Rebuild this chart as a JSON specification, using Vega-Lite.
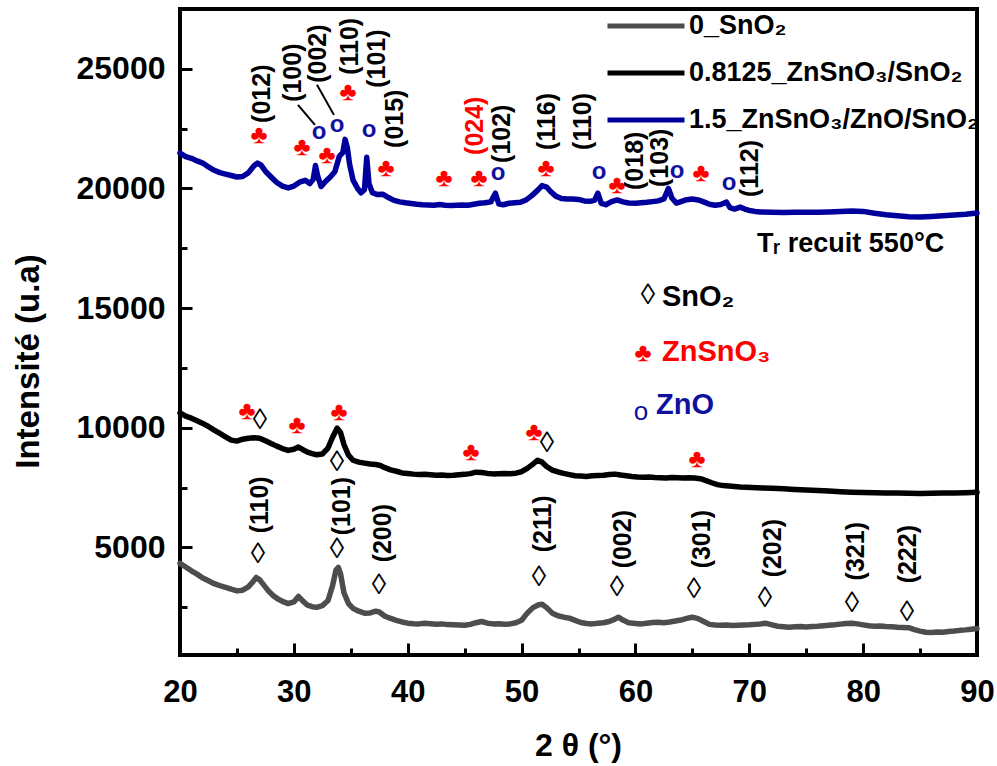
{
  "$schema": "https://vega.github.io/schema/vega-lite/v6.json",
  "width": 797,
  "height": 646,
  "autosize": "none",
  "padding": {"left": 180, "top": 9, "right": 20, "bottom": 111},
  "background": "white",
  "config": {
    "view": {"stroke": "black", "strokeWidth": 4},
    "font": "Liberation Sans",
    "legend": {
      "orient": "none",
      "legendX": 425,
      "legendY": 2,
      "padding": 0,
      "symbolType": "stroke",
      "symbolSize": 5929,
      "symbolStrokeWidth": 5,
      "labelFont": "Liberation Sans",
      "labelFontWeight": "bold",
      "labelFontSize": 27,
      "labelColor": "black",
      "labelOffset": 2,
      "labelLimit": 500,
      "clipHeight": 30,
      "rowPadding": 17
    }
  },
  "datasets": {
    "scans": [
      {"s": "0_SnO₂", "t": 20.0, "i": 4330}, {"s": "0_SnO₂", "t": 20.5, "i": 4180}, {"s": "0_SnO₂", "t": 21.0, "i": 4020}, {"s": "0_SnO₂", "t": 21.5, "i": 3880},
      {"s": "0_SnO₂", "t": 22.0, "i": 3720}, {"s": "0_SnO₂", "t": 22.5, "i": 3600}, {"s": "0_SnO₂", "t": 23.0, "i": 3480}, {"s": "0_SnO₂", "t": 23.5, "i": 3400},
      {"s": "0_SnO₂", "t": 24.0, "i": 3330}, {"s": "0_SnO₂", "t": 24.5, "i": 3250}, {"s": "0_SnO₂", "t": 25.0, "i": 3180}, {"s": "0_SnO₂", "t": 25.5, "i": 3210},
      {"s": "0_SnO₂", "t": 26.0, "i": 3350}, {"s": "0_SnO₂", "t": 26.4, "i": 3560}, {"s": "0_SnO₂", "t": 26.7, "i": 3740}, {"s": "0_SnO₂", "t": 27.0, "i": 3640},
      {"s": "0_SnO₂", "t": 27.4, "i": 3400}, {"s": "0_SnO₂", "t": 27.8, "i": 3160}, {"s": "0_SnO₂", "t": 28.2, "i": 2980}, {"s": "0_SnO₂", "t": 28.6, "i": 2840},
      {"s": "0_SnO₂", "t": 29.0, "i": 2740}, {"s": "0_SnO₂", "t": 29.5, "i": 2650}, {"s": "0_SnO₂", "t": 30.0, "i": 2720}, {"s": "0_SnO₂", "t": 30.4, "i": 2950},
      {"s": "0_SnO₂", "t": 30.8, "i": 2750}, {"s": "0_SnO₂", "t": 31.2, "i": 2580}, {"s": "0_SnO₂", "t": 31.6, "i": 2520}, {"s": "0_SnO₂", "t": 32.0, "i": 2490},
      {"s": "0_SnO₂", "t": 32.5, "i": 2560}, {"s": "0_SnO₂", "t": 33.0, "i": 2780}, {"s": "0_SnO₂", "t": 33.4, "i": 3400}, {"s": "0_SnO₂", "t": 33.7, "i": 4050},
      {"s": "0_SnO₂", "t": 33.9, "i": 4160}, {"s": "0_SnO₂", "t": 34.1, "i": 3900}, {"s": "0_SnO₂", "t": 34.4, "i": 3100}, {"s": "0_SnO₂", "t": 34.8, "i": 2650},
      {"s": "0_SnO₂", "t": 35.2, "i": 2450}, {"s": "0_SnO₂", "t": 35.7, "i": 2330}, {"s": "0_SnO₂", "t": 36.2, "i": 2250}, {"s": "0_SnO₂", "t": 36.7, "i": 2260},
      {"s": "0_SnO₂", "t": 37.2, "i": 2330}, {"s": "0_SnO₂", "t": 37.5, "i": 2300}, {"s": "0_SnO₂", "t": 38.0, "i": 2120}, {"s": "0_SnO₂", "t": 38.5, "i": 2030},
      {"s": "0_SnO₂", "t": 39.0, "i": 1950}, {"s": "0_SnO₂", "t": 39.5, "i": 1880}, {"s": "0_SnO₂", "t": 40.0, "i": 1830}, {"s": "0_SnO₂", "t": 40.5, "i": 1810},
      {"s": "0_SnO₂", "t": 41.0, "i": 1800}, {"s": "0_SnO₂", "t": 41.5, "i": 1830}, {"s": "0_SnO₂", "t": 42.0, "i": 1810}, {"s": "0_SnO₂", "t": 42.5, "i": 1790},
      {"s": "0_SnO₂", "t": 43.0, "i": 1800}, {"s": "0_SnO₂", "t": 43.5, "i": 1770}, {"s": "0_SnO₂", "t": 44.0, "i": 1760}, {"s": "0_SnO₂", "t": 44.5, "i": 1750},
      {"s": "0_SnO₂", "t": 45.0, "i": 1740}, {"s": "0_SnO₂", "t": 45.5, "i": 1780}, {"s": "0_SnO₂", "t": 46.0, "i": 1850}, {"s": "0_SnO₂", "t": 46.5, "i": 1900},
      {"s": "0_SnO₂", "t": 47.0, "i": 1830}, {"s": "0_SnO₂", "t": 47.5, "i": 1800}, {"s": "0_SnO₂", "t": 48.0, "i": 1810}, {"s": "0_SnO₂", "t": 48.5, "i": 1790},
      {"s": "0_SnO₂", "t": 49.0, "i": 1800}, {"s": "0_SnO₂", "t": 49.5, "i": 1850}, {"s": "0_SnO₂", "t": 50.0, "i": 1950}, {"s": "0_SnO₂", "t": 50.5, "i": 2250},
      {"s": "0_SnO₂", "t": 51.0, "i": 2480}, {"s": "0_SnO₂", "t": 51.5, "i": 2600}, {"s": "0_SnO₂", "t": 51.8, "i": 2620}, {"s": "0_SnO₂", "t": 52.2, "i": 2480},
      {"s": "0_SnO₂", "t": 52.7, "i": 2250}, {"s": "0_SnO₂", "t": 53.2, "i": 2140}, {"s": "0_SnO₂", "t": 53.7, "i": 2080}, {"s": "0_SnO₂", "t": 54.2, "i": 2040},
      {"s": "0_SnO₂", "t": 54.7, "i": 1950}, {"s": "0_SnO₂", "t": 55.2, "i": 1860}, {"s": "0_SnO₂", "t": 55.7, "i": 1820}, {"s": "0_SnO₂", "t": 56.2, "i": 1800},
      {"s": "0_SnO₂", "t": 56.7, "i": 1830}, {"s": "0_SnO₂", "t": 57.2, "i": 1850}, {"s": "0_SnO₂", "t": 57.7, "i": 1900}, {"s": "0_SnO₂", "t": 58.2, "i": 2000},
      {"s": "0_SnO₂", "t": 58.5, "i": 2080}, {"s": "0_SnO₂", "t": 58.9, "i": 1960}, {"s": "0_SnO₂", "t": 59.4, "i": 1850}, {"s": "0_SnO₂", "t": 60.0, "i": 1820},
      {"s": "0_SnO₂", "t": 60.5, "i": 1800}, {"s": "0_SnO₂", "t": 61.0, "i": 1830}, {"s": "0_SnO₂", "t": 61.5, "i": 1860}, {"s": "0_SnO₂", "t": 62.0, "i": 1870},
      {"s": "0_SnO₂", "t": 62.5, "i": 1850}, {"s": "0_SnO₂", "t": 63.0, "i": 1880}, {"s": "0_SnO₂", "t": 63.5, "i": 1920}, {"s": "0_SnO₂", "t": 64.0, "i": 1960},
      {"s": "0_SnO₂", "t": 64.5, "i": 2030}, {"s": "0_SnO₂", "t": 65.0, "i": 2080}, {"s": "0_SnO₂", "t": 65.5, "i": 2020}, {"s": "0_SnO₂", "t": 66.0, "i": 1900},
      {"s": "0_SnO₂", "t": 66.5, "i": 1780}, {"s": "0_SnO₂", "t": 67.0, "i": 1750}, {"s": "0_SnO₂", "t": 67.5, "i": 1740}, {"s": "0_SnO₂", "t": 68.0, "i": 1750},
      {"s": "0_SnO₂", "t": 68.5, "i": 1730}, {"s": "0_SnO₂", "t": 69.0, "i": 1740}, {"s": "0_SnO₂", "t": 69.5, "i": 1750}, {"s": "0_SnO₂", "t": 70.0, "i": 1760},
      {"s": "0_SnO₂", "t": 70.5, "i": 1780}, {"s": "0_SnO₂", "t": 71.0, "i": 1800}, {"s": "0_SnO₂", "t": 71.4, "i": 1830}, {"s": "0_SnO₂", "t": 72.0, "i": 1760},
      {"s": "0_SnO₂", "t": 72.5, "i": 1700}, {"s": "0_SnO₂", "t": 73.0, "i": 1680}, {"s": "0_SnO₂", "t": 73.5, "i": 1660}, {"s": "0_SnO₂", "t": 74.0, "i": 1680},
      {"s": "0_SnO₂", "t": 74.5, "i": 1690}, {"s": "0_SnO₂", "t": 75.0, "i": 1670}, {"s": "0_SnO₂", "t": 75.5, "i": 1690}, {"s": "0_SnO₂", "t": 76.0, "i": 1700},
      {"s": "0_SnO₂", "t": 76.5, "i": 1720}, {"s": "0_SnO₂", "t": 77.0, "i": 1740}, {"s": "0_SnO₂", "t": 77.5, "i": 1760}, {"s": "0_SnO₂", "t": 78.0, "i": 1790},
      {"s": "0_SnO₂", "t": 78.5, "i": 1820}, {"s": "0_SnO₂", "t": 79.0, "i": 1830}, {"s": "0_SnO₂", "t": 79.5, "i": 1800}, {"s": "0_SnO₂", "t": 80.0, "i": 1760},
      {"s": "0_SnO₂", "t": 80.5, "i": 1720}, {"s": "0_SnO₂", "t": 81.0, "i": 1700}, {"s": "0_SnO₂", "t": 81.5, "i": 1710}, {"s": "0_SnO₂", "t": 82.0, "i": 1690},
      {"s": "0_SnO₂", "t": 82.5, "i": 1680}, {"s": "0_SnO₂", "t": 83.0, "i": 1660}, {"s": "0_SnO₂", "t": 83.5, "i": 1650}, {"s": "0_SnO₂", "t": 84.0, "i": 1640},
      {"s": "0_SnO₂", "t": 84.5, "i": 1560}, {"s": "0_SnO₂", "t": 85.0, "i": 1500}, {"s": "0_SnO₂", "t": 85.5, "i": 1450}, {"s": "0_SnO₂", "t": 86.0, "i": 1440},
      {"s": "0_SnO₂", "t": 86.5, "i": 1460}, {"s": "0_SnO₂", "t": 87.0, "i": 1450}, {"s": "0_SnO₂", "t": 87.5, "i": 1480}, {"s": "0_SnO₂", "t": 88.0, "i": 1500},
      {"s": "0_SnO₂", "t": 88.5, "i": 1530}, {"s": "0_SnO₂", "t": 89.0, "i": 1550}, {"s": "0_SnO₂", "t": 89.5, "i": 1580}, {"s": "0_SnO₂", "t": 90.0, "i": 1610},

      {"s": "0.8125_ZnSnO₃/SnO₂", "t": 20.0, "i": 10620}, {"s": "0.8125_ZnSnO₃/SnO₂", "t": 20.5, "i": 10480}, {"s": "0.8125_ZnSnO₃/SnO₂", "t": 21.0, "i": 10400},
      {"s": "0.8125_ZnSnO₃/SnO₂", "t": 21.5, "i": 10290}, {"s": "0.8125_ZnSnO₃/SnO₂", "t": 22.0, "i": 10180}, {"s": "0.8125_ZnSnO₃/SnO₂", "t": 22.5, "i": 10050},
      {"s": "0.8125_ZnSnO₃/SnO₂", "t": 23.0, "i": 9900}, {"s": "0.8125_ZnSnO₃/SnO₂", "t": 23.5, "i": 9760}, {"s": "0.8125_ZnSnO₃/SnO₂", "t": 24.0, "i": 9620},
      {"s": "0.8125_ZnSnO₃/SnO₂", "t": 24.5, "i": 9480}, {"s": "0.8125_ZnSnO₃/SnO₂", "t": 25.0, "i": 9440}, {"s": "0.8125_ZnSnO₃/SnO₂", "t": 25.5, "i": 9520},
      {"s": "0.8125_ZnSnO₃/SnO₂", "t": 26.0, "i": 9560}, {"s": "0.8125_ZnSnO₃/SnO₂", "t": 26.5, "i": 9580}, {"s": "0.8125_ZnSnO₃/SnO₂", "t": 27.0, "i": 9560},
      {"s": "0.8125_ZnSnO₃/SnO₂", "t": 27.5, "i": 9450}, {"s": "0.8125_ZnSnO₃/SnO₂", "t": 28.0, "i": 9340}, {"s": "0.8125_ZnSnO₃/SnO₂", "t": 28.5, "i": 9230},
      {"s": "0.8125_ZnSnO₃/SnO₂", "t": 29.0, "i": 9130}, {"s": "0.8125_ZnSnO₃/SnO₂", "t": 29.5, "i": 9050}, {"s": "0.8125_ZnSnO₃/SnO₂", "t": 30.0, "i": 9100},
      {"s": "0.8125_ZnSnO₃/SnO₂", "t": 30.4, "i": 9190}, {"s": "0.8125_ZnSnO₃/SnO₂", "t": 30.8, "i": 9080}, {"s": "0.8125_ZnSnO₃/SnO₂", "t": 31.2, "i": 8980},
      {"s": "0.8125_ZnSnO₃/SnO₂", "t": 31.6, "i": 8920}, {"s": "0.8125_ZnSnO₃/SnO₂", "t": 32.0, "i": 8870}, {"s": "0.8125_ZnSnO₃/SnO₂", "t": 32.5, "i": 8900},
      {"s": "0.8125_ZnSnO₃/SnO₂", "t": 33.0, "i": 9150}, {"s": "0.8125_ZnSnO₃/SnO₂", "t": 33.4, "i": 9600}, {"s": "0.8125_ZnSnO₃/SnO₂", "t": 33.8, "i": 9980},
      {"s": "0.8125_ZnSnO₃/SnO₂", "t": 34.1, "i": 9800}, {"s": "0.8125_ZnSnO₃/SnO₂", "t": 34.4, "i": 9300}, {"s": "0.8125_ZnSnO₃/SnO₂", "t": 34.8, "i": 8850},
      {"s": "0.8125_ZnSnO₃/SnO₂", "t": 35.2, "i": 8640}, {"s": "0.8125_ZnSnO₃/SnO₂", "t": 35.7, "i": 8560}, {"s": "0.8125_ZnSnO₃/SnO₂", "t": 36.2, "i": 8520},
      {"s": "0.8125_ZnSnO₃/SnO₂", "t": 36.7, "i": 8480}, {"s": "0.8125_ZnSnO₃/SnO₂", "t": 37.2, "i": 8460}, {"s": "0.8125_ZnSnO₃/SnO₂", "t": 37.6, "i": 8420},
      {"s": "0.8125_ZnSnO₃/SnO₂", "t": 38.0, "i": 8330}, {"s": "0.8125_ZnSnO₃/SnO₂", "t": 38.5, "i": 8240}, {"s": "0.8125_ZnSnO₃/SnO₂", "t": 39.0, "i": 8180},
      {"s": "0.8125_ZnSnO₃/SnO₂", "t": 39.5, "i": 8110}, {"s": "0.8125_ZnSnO₃/SnO₂", "t": 40.0, "i": 8090}, {"s": "0.8125_ZnSnO₃/SnO₂", "t": 40.5, "i": 8060},
      {"s": "0.8125_ZnSnO₃/SnO₂", "t": 41.0, "i": 8040}, {"s": "0.8125_ZnSnO₃/SnO₂", "t": 41.5, "i": 8050}, {"s": "0.8125_ZnSnO₃/SnO₂", "t": 42.0, "i": 8030},
      {"s": "0.8125_ZnSnO₃/SnO₂", "t": 42.5, "i": 8010}, {"s": "0.8125_ZnSnO₃/SnO₂", "t": 43.0, "i": 8020}, {"s": "0.8125_ZnSnO₃/SnO₂", "t": 43.5, "i": 8000},
      {"s": "0.8125_ZnSnO₃/SnO₂", "t": 44.0, "i": 8010}, {"s": "0.8125_ZnSnO₃/SnO₂", "t": 44.5, "i": 8030}, {"s": "0.8125_ZnSnO₃/SnO₂", "t": 45.0, "i": 8050},
      {"s": "0.8125_ZnSnO₃/SnO₂", "t": 45.5, "i": 8080}, {"s": "0.8125_ZnSnO₃/SnO₂", "t": 46.0, "i": 8140}, {"s": "0.8125_ZnSnO₃/SnO₂", "t": 46.5, "i": 8130},
      {"s": "0.8125_ZnSnO₃/SnO₂", "t": 47.0, "i": 8090}, {"s": "0.8125_ZnSnO₃/SnO₂", "t": 47.5, "i": 8070}, {"s": "0.8125_ZnSnO₃/SnO₂", "t": 48.0, "i": 8080},
      {"s": "0.8125_ZnSnO₃/SnO₂", "t": 48.5, "i": 8090}, {"s": "0.8125_ZnSnO₃/SnO₂", "t": 49.0, "i": 8080}, {"s": "0.8125_ZnSnO₃/SnO₂", "t": 49.5, "i": 8100},
      {"s": "0.8125_ZnSnO₃/SnO₂", "t": 50.0, "i": 8160}, {"s": "0.8125_ZnSnO₃/SnO₂", "t": 50.5, "i": 8300}, {"s": "0.8125_ZnSnO₃/SnO₂", "t": 51.0, "i": 8480},
      {"s": "0.8125_ZnSnO₃/SnO₂", "t": 51.4, "i": 8640}, {"s": "0.8125_ZnSnO₃/SnO₂", "t": 51.8, "i": 8560}, {"s": "0.8125_ZnSnO₃/SnO₂", "t": 52.2, "i": 8380},
      {"s": "0.8125_ZnSnO₃/SnO₂", "t": 52.7, "i": 8230}, {"s": "0.8125_ZnSnO₃/SnO₂", "t": 53.2, "i": 8150}, {"s": "0.8125_ZnSnO₃/SnO₂", "t": 53.7, "i": 8090},
      {"s": "0.8125_ZnSnO₃/SnO₂", "t": 54.2, "i": 8040}, {"s": "0.8125_ZnSnO₃/SnO₂", "t": 54.7, "i": 7990}, {"s": "0.8125_ZnSnO₃/SnO₂", "t": 55.2, "i": 7980},
      {"s": "0.8125_ZnSnO₃/SnO₂", "t": 55.7, "i": 7960}, {"s": "0.8125_ZnSnO₃/SnO₂", "t": 56.2, "i": 7990}, {"s": "0.8125_ZnSnO₃/SnO₂", "t": 56.7, "i": 8000},
      {"s": "0.8125_ZnSnO₃/SnO₂", "t": 57.2, "i": 8010}, {"s": "0.8125_ZnSnO₃/SnO₂", "t": 57.7, "i": 8040}, {"s": "0.8125_ZnSnO₃/SnO₂", "t": 58.2, "i": 8060},
      {"s": "0.8125_ZnSnO₃/SnO₂", "t": 58.7, "i": 8020}, {"s": "0.8125_ZnSnO₃/SnO₂", "t": 59.2, "i": 7990}, {"s": "0.8125_ZnSnO₃/SnO₂", "t": 59.7, "i": 7960},
      {"s": "0.8125_ZnSnO₃/SnO₂", "t": 60.2, "i": 7940}, {"s": "0.8125_ZnSnO₃/SnO₂", "t": 60.7, "i": 7930}, {"s": "0.8125_ZnSnO₃/SnO₂", "t": 61.2, "i": 7940},
      {"s": "0.8125_ZnSnO₃/SnO₂", "t": 61.7, "i": 7920}, {"s": "0.8125_ZnSnO₃/SnO₂", "t": 62.2, "i": 7910}, {"s": "0.8125_ZnSnO₃/SnO₂", "t": 62.7, "i": 7900},
      {"s": "0.8125_ZnSnO₃/SnO₂", "t": 63.2, "i": 7920}, {"s": "0.8125_ZnSnO₃/SnO₂", "t": 63.7, "i": 7910}, {"s": "0.8125_ZnSnO₃/SnO₂", "t": 64.2, "i": 7900},
      {"s": "0.8125_ZnSnO₃/SnO₂", "t": 64.7, "i": 7910}, {"s": "0.8125_ZnSnO₃/SnO₂", "t": 65.2, "i": 7900}, {"s": "0.8125_ZnSnO₃/SnO₂", "t": 65.7, "i": 7870},
      {"s": "0.8125_ZnSnO₃/SnO₂", "t": 66.2, "i": 7790}, {"s": "0.8125_ZnSnO₃/SnO₂", "t": 66.7, "i": 7700}, {"s": "0.8125_ZnSnO₃/SnO₂", "t": 67.2, "i": 7620},
      {"s": "0.8125_ZnSnO₃/SnO₂", "t": 67.7, "i": 7580}, {"s": "0.8125_ZnSnO₃/SnO₂", "t": 68.2, "i": 7560}, {"s": "0.8125_ZnSnO₃/SnO₂", "t": 68.7, "i": 7540},
      {"s": "0.8125_ZnSnO₃/SnO₂", "t": 69.2, "i": 7520}, {"s": "0.8125_ZnSnO₃/SnO₂", "t": 69.7, "i": 7510}, {"s": "0.8125_ZnSnO₃/SnO₂", "t": 70.2, "i": 7500},
      {"s": "0.8125_ZnSnO₃/SnO₂", "t": 70.7, "i": 7490}, {"s": "0.8125_ZnSnO₃/SnO₂", "t": 71.2, "i": 7480}, {"s": "0.8125_ZnSnO₃/SnO₂", "t": 72.0, "i": 7470},
      {"s": "0.8125_ZnSnO₃/SnO₂", "t": 73.0, "i": 7450}, {"s": "0.8125_ZnSnO₃/SnO₂", "t": 74.0, "i": 7420}, {"s": "0.8125_ZnSnO₃/SnO₂", "t": 75.0, "i": 7400},
      {"s": "0.8125_ZnSnO₃/SnO₂", "t": 76.0, "i": 7380}, {"s": "0.8125_ZnSnO₃/SnO₂", "t": 77.0, "i": 7350}, {"s": "0.8125_ZnSnO₃/SnO₂", "t": 78.0, "i": 7320},
      {"s": "0.8125_ZnSnO₃/SnO₂", "t": 79.0, "i": 7300}, {"s": "0.8125_ZnSnO₃/SnO₂", "t": 80.0, "i": 7290}, {"s": "0.8125_ZnSnO₃/SnO₂", "t": 81.0, "i": 7280},
      {"s": "0.8125_ZnSnO₃/SnO₂", "t": 82.0, "i": 7270}, {"s": "0.8125_ZnSnO₃/SnO₂", "t": 83.0, "i": 7270}, {"s": "0.8125_ZnSnO₃/SnO₂", "t": 84.0, "i": 7260},
      {"s": "0.8125_ZnSnO₃/SnO₂", "t": 85.0, "i": 7250}, {"s": "0.8125_ZnSnO₃/SnO₂", "t": 86.0, "i": 7260}, {"s": "0.8125_ZnSnO₃/SnO₂", "t": 87.0, "i": 7270},
      {"s": "0.8125_ZnSnO₃/SnO₂", "t": 88.0, "i": 7270}, {"s": "0.8125_ZnSnO₃/SnO₂", "t": 89.0, "i": 7280}, {"s": "0.8125_ZnSnO₃/SnO₂", "t": 90.0, "i": 7300},

      {"s": "1.5_ZnSnO₃/ZnO/SnO₂", "t": 20.0, "i": 21480}, {"s": "1.5_ZnSnO₃/ZnO/SnO₂", "t": 20.5, "i": 21330}, {"s": "1.5_ZnSnO₃/ZnO/SnO₂", "t": 21.0, "i": 21260},
      {"s": "1.5_ZnSnO₃/ZnO/SnO₂", "t": 21.5, "i": 21150}, {"s": "1.5_ZnSnO₃/ZnO/SnO₂", "t": 22.0, "i": 21060}, {"s": "1.5_ZnSnO₃/ZnO/SnO₂", "t": 22.5, "i": 20900},
      {"s": "1.5_ZnSnO₃/ZnO/SnO₂", "t": 23.0, "i": 20760}, {"s": "1.5_ZnSnO₃/ZnO/SnO₂", "t": 23.5, "i": 20660}, {"s": "1.5_ZnSnO₃/ZnO/SnO₂", "t": 24.0, "i": 20600},
      {"s": "1.5_ZnSnO₃/ZnO/SnO₂", "t": 24.5, "i": 20540}, {"s": "1.5_ZnSnO₃/ZnO/SnO₂", "t": 25.0, "i": 20480}, {"s": "1.5_ZnSnO₃/ZnO/SnO₂", "t": 25.5, "i": 20500},
      {"s": "1.5_ZnSnO₃/ZnO/SnO₂", "t": 26.0, "i": 20650}, {"s": "1.5_ZnSnO₃/ZnO/SnO₂", "t": 26.5, "i": 20950}, {"s": "1.5_ZnSnO₃/ZnO/SnO₂", "t": 26.8, "i": 21060},
      {"s": "1.5_ZnSnO₃/ZnO/SnO₂", "t": 27.1, "i": 20980}, {"s": "1.5_ZnSnO₃/ZnO/SnO₂", "t": 27.5, "i": 20720}, {"s": "1.5_ZnSnO₃/ZnO/SnO₂", "t": 28.0, "i": 20480},
      {"s": "1.5_ZnSnO₃/ZnO/SnO₂", "t": 28.5, "i": 20250}, {"s": "1.5_ZnSnO₃/ZnO/SnO₂", "t": 29.0, "i": 20100}, {"s": "1.5_ZnSnO₃/ZnO/SnO₂", "t": 29.5, "i": 20020},
      {"s": "1.5_ZnSnO₃/ZnO/SnO₂", "t": 30.0, "i": 20100}, {"s": "1.5_ZnSnO₃/ZnO/SnO₂", "t": 30.5, "i": 20260}, {"s": "1.5_ZnSnO₃/ZnO/SnO₂", "t": 31.0, "i": 20340},
      {"s": "1.5_ZnSnO₃/ZnO/SnO₂", "t": 31.4, "i": 20200}, {"s": "1.5_ZnSnO₃/ZnO/SnO₂", "t": 31.7, "i": 20380}, {"s": "1.5_ZnSnO₃/ZnO/SnO₂", "t": 31.9, "i": 20960},
      {"s": "1.5_ZnSnO₃/ZnO/SnO₂", "t": 32.1, "i": 20500}, {"s": "1.5_ZnSnO₃/ZnO/SnO₂", "t": 32.4, "i": 20080}, {"s": "1.5_ZnSnO₃/ZnO/SnO₂", "t": 32.8, "i": 20300},
      {"s": "1.5_ZnSnO₃/ZnO/SnO₂", "t": 33.2, "i": 20480}, {"s": "1.5_ZnSnO₃/ZnO/SnO₂", "t": 33.6, "i": 20700}, {"s": "1.5_ZnSnO₃/ZnO/SnO₂", "t": 34.0, "i": 21350},
      {"s": "1.5_ZnSnO₃/ZnO/SnO₂", "t": 34.3, "i": 21500}, {"s": "1.5_ZnSnO₃/ZnO/SnO₂", "t": 34.5, "i": 22050}, {"s": "1.5_ZnSnO₃/ZnO/SnO₂", "t": 34.7, "i": 21700},
      {"s": "1.5_ZnSnO₃/ZnO/SnO₂", "t": 34.9, "i": 21000}, {"s": "1.5_ZnSnO₃/ZnO/SnO₂", "t": 35.2, "i": 20350}, {"s": "1.5_ZnSnO₃/ZnO/SnO₂", "t": 35.6, "i": 20000},
      {"s": "1.5_ZnSnO₃/ZnO/SnO₂", "t": 35.9, "i": 19820}, {"s": "1.5_ZnSnO₃/ZnO/SnO₂", "t": 36.2, "i": 19950}, {"s": "1.5_ZnSnO₃/ZnO/SnO₂", "t": 36.4, "i": 21300},
      {"s": "1.5_ZnSnO₃/ZnO/SnO₂", "t": 36.6, "i": 20200}, {"s": "1.5_ZnSnO₃/ZnO/SnO₂", "t": 36.9, "i": 19820}, {"s": "1.5_ZnSnO₃/ZnO/SnO₂", "t": 37.3, "i": 19750},
      {"s": "1.5_ZnSnO₃/ZnO/SnO₂", "t": 37.8, "i": 19760}, {"s": "1.5_ZnSnO₃/ZnO/SnO₂", "t": 38.3, "i": 19620}, {"s": "1.5_ZnSnO₃/ZnO/SnO₂", "t": 38.8, "i": 19500},
      {"s": "1.5_ZnSnO₃/ZnO/SnO₂", "t": 39.3, "i": 19440}, {"s": "1.5_ZnSnO₃/ZnO/SnO₂", "t": 39.8, "i": 19400}, {"s": "1.5_ZnSnO₃/ZnO/SnO₂", "t": 40.3, "i": 19370},
      {"s": "1.5_ZnSnO₃/ZnO/SnO₂", "t": 40.8, "i": 19340}, {"s": "1.5_ZnSnO₃/ZnO/SnO₂", "t": 41.3, "i": 19320}, {"s": "1.5_ZnSnO₃/ZnO/SnO₂", "t": 41.8, "i": 19310},
      {"s": "1.5_ZnSnO₃/ZnO/SnO₂", "t": 42.3, "i": 19300}, {"s": "1.5_ZnSnO₃/ZnO/SnO₂", "t": 42.8, "i": 19330}, {"s": "1.5_ZnSnO₃/ZnO/SnO₂", "t": 43.3, "i": 19300},
      {"s": "1.5_ZnSnO₃/ZnO/SnO₂", "t": 43.8, "i": 19290}, {"s": "1.5_ZnSnO₃/ZnO/SnO₂", "t": 44.3, "i": 19300}, {"s": "1.5_ZnSnO₃/ZnO/SnO₂", "t": 44.8, "i": 19310},
      {"s": "1.5_ZnSnO₃/ZnO/SnO₂", "t": 45.3, "i": 19300}, {"s": "1.5_ZnSnO₃/ZnO/SnO₂", "t": 45.8, "i": 19340}, {"s": "1.5_ZnSnO₃/ZnO/SnO₂", "t": 46.3, "i": 19380},
      {"s": "1.5_ZnSnO₃/ZnO/SnO₂", "t": 46.8, "i": 19400}, {"s": "1.5_ZnSnO₃/ZnO/SnO₂", "t": 47.3, "i": 19440}, {"s": "1.5_ZnSnO₃/ZnO/SnO₂", "t": 47.7, "i": 19800},
      {"s": "1.5_ZnSnO₃/ZnO/SnO₂", "t": 48.0, "i": 19350}, {"s": "1.5_ZnSnO₃/ZnO/SnO₂", "t": 48.4, "i": 19320}, {"s": "1.5_ZnSnO₃/ZnO/SnO₂", "t": 48.9, "i": 19380},
      {"s": "1.5_ZnSnO₃/ZnO/SnO₂", "t": 49.4, "i": 19400}, {"s": "1.5_ZnSnO₃/ZnO/SnO₂", "t": 49.9, "i": 19420}, {"s": "1.5_ZnSnO₃/ZnO/SnO₂", "t": 50.4, "i": 19520},
      {"s": "1.5_ZnSnO₃/ZnO/SnO₂", "t": 50.9, "i": 19700}, {"s": "1.5_ZnSnO₃/ZnO/SnO₂", "t": 51.4, "i": 19920}, {"s": "1.5_ZnSnO₃/ZnO/SnO₂", "t": 51.8, "i": 20120},
      {"s": "1.5_ZnSnO₃/ZnO/SnO₂", "t": 52.2, "i": 20060}, {"s": "1.5_ZnSnO₃/ZnO/SnO₂", "t": 52.6, "i": 19850}, {"s": "1.5_ZnSnO₃/ZnO/SnO₂", "t": 53.0, "i": 19680},
      {"s": "1.5_ZnSnO₃/ZnO/SnO₂", "t": 53.5, "i": 19580}, {"s": "1.5_ZnSnO₃/ZnO/SnO₂", "t": 54.0, "i": 19560}, {"s": "1.5_ZnSnO₃/ZnO/SnO₂", "t": 54.5, "i": 19560},
      {"s": "1.5_ZnSnO₃/ZnO/SnO₂", "t": 55.0, "i": 19540}, {"s": "1.5_ZnSnO₃/ZnO/SnO₂", "t": 55.5, "i": 19480}, {"s": "1.5_ZnSnO₃/ZnO/SnO₂", "t": 56.0, "i": 19460},
      {"s": "1.5_ZnSnO₃/ZnO/SnO₂", "t": 56.4, "i": 19500}, {"s": "1.5_ZnSnO₃/ZnO/SnO₂", "t": 56.7, "i": 19800}, {"s": "1.5_ZnSnO₃/ZnO/SnO₂", "t": 57.0, "i": 19380},
      {"s": "1.5_ZnSnO₃/ZnO/SnO₂", "t": 57.4, "i": 19320}, {"s": "1.5_ZnSnO₃/ZnO/SnO₂", "t": 57.9, "i": 19450}, {"s": "1.5_ZnSnO₃/ZnO/SnO₂", "t": 58.4, "i": 19520},
      {"s": "1.5_ZnSnO₃/ZnO/SnO₂", "t": 58.9, "i": 19440}, {"s": "1.5_ZnSnO₃/ZnO/SnO₂", "t": 59.4, "i": 19390}, {"s": "1.5_ZnSnO₃/ZnO/SnO₂", "t": 60.0, "i": 19380},
      {"s": "1.5_ZnSnO₃/ZnO/SnO₂", "t": 60.5, "i": 19400}, {"s": "1.5_ZnSnO₃/ZnO/SnO₂", "t": 61.0, "i": 19420}, {"s": "1.5_ZnSnO₃/ZnO/SnO₂", "t": 61.5, "i": 19450},
      {"s": "1.5_ZnSnO₃/ZnO/SnO₂", "t": 62.0, "i": 19480}, {"s": "1.5_ZnSnO₃/ZnO/SnO₂", "t": 62.5, "i": 19560}, {"s": "1.5_ZnSnO₃/ZnO/SnO₂", "t": 62.9, "i": 20000},
      {"s": "1.5_ZnSnO₃/ZnO/SnO₂", "t": 63.2, "i": 19600}, {"s": "1.5_ZnSnO₃/ZnO/SnO₂", "t": 63.6, "i": 19390}, {"s": "1.5_ZnSnO₃/ZnO/SnO₂", "t": 64.0, "i": 19450},
      {"s": "1.5_ZnSnO₃/ZnO/SnO₂", "t": 64.5, "i": 19530}, {"s": "1.5_ZnSnO₃/ZnO/SnO₂", "t": 65.0, "i": 19560}, {"s": "1.5_ZnSnO₃/ZnO/SnO₂", "t": 65.5, "i": 19520},
      {"s": "1.5_ZnSnO₃/ZnO/SnO₂", "t": 66.0, "i": 19440}, {"s": "1.5_ZnSnO₃/ZnO/SnO₂", "t": 66.5, "i": 19340}, {"s": "1.5_ZnSnO₃/ZnO/SnO₂", "t": 67.0, "i": 19300},
      {"s": "1.5_ZnSnO₃/ZnO/SnO₂", "t": 67.5, "i": 19330}, {"s": "1.5_ZnSnO₃/ZnO/SnO₂", "t": 68.0, "i": 19430}, {"s": "1.5_ZnSnO₃/ZnO/SnO₂", "t": 68.3, "i": 19200},
      {"s": "1.5_ZnSnO₃/ZnO/SnO₂", "t": 68.7, "i": 19140}, {"s": "1.5_ZnSnO₃/ZnO/SnO₂", "t": 69.2, "i": 19220}, {"s": "1.5_ZnSnO₃/ZnO/SnO₂", "t": 69.6, "i": 19140},
      {"s": "1.5_ZnSnO₃/ZnO/SnO₂", "t": 70.0, "i": 19080}, {"s": "1.5_ZnSnO₃/ZnO/SnO₂", "t": 70.5, "i": 19040}, {"s": "1.5_ZnSnO₃/ZnO/SnO₂", "t": 71.0, "i": 19020},
      {"s": "1.5_ZnSnO₃/ZnO/SnO₂", "t": 72.0, "i": 19000}, {"s": "1.5_ZnSnO₃/ZnO/SnO₂", "t": 73.0, "i": 18990}, {"s": "1.5_ZnSnO₃/ZnO/SnO₂", "t": 74.0, "i": 19000},
      {"s": "1.5_ZnSnO₃/ZnO/SnO₂", "t": 75.0, "i": 19010}, {"s": "1.5_ZnSnO₃/ZnO/SnO₂", "t": 76.0, "i": 19000}, {"s": "1.5_ZnSnO₃/ZnO/SnO₂", "t": 77.0, "i": 19020},
      {"s": "1.5_ZnSnO₃/ZnO/SnO₂", "t": 78.0, "i": 19040}, {"s": "1.5_ZnSnO₃/ZnO/SnO₂", "t": 79.0, "i": 19060}, {"s": "1.5_ZnSnO₃/ZnO/SnO₂", "t": 80.0, "i": 19040},
      {"s": "1.5_ZnSnO₃/ZnO/SnO₂", "t": 81.0, "i": 18960}, {"s": "1.5_ZnSnO₃/ZnO/SnO₂", "t": 82.0, "i": 18900}, {"s": "1.5_ZnSnO₃/ZnO/SnO₂", "t": 83.0, "i": 18860},
      {"s": "1.5_ZnSnO₃/ZnO/SnO₂", "t": 84.0, "i": 18820}, {"s": "1.5_ZnSnO₃/ZnO/SnO₂", "t": 85.0, "i": 18810}, {"s": "1.5_ZnSnO₃/ZnO/SnO₂", "t": 86.0, "i": 18830},
      {"s": "1.5_ZnSnO₃/ZnO/SnO₂", "t": 87.0, "i": 18860}, {"s": "1.5_ZnSnO₃/ZnO/SnO₂", "t": 88.0, "i": 18890}, {"s": "1.5_ZnSnO₃/ZnO/SnO₂", "t": 89.0, "i": 18920},
      {"s": "1.5_ZnSnO₃/ZnO/SnO₂", "t": 90.0, "i": 18970}
    ],
    "peaks": [
      {"p": "ZnSnO3", "t": 26.94, "i": 22238}, {"p": "ZnSnO3", "t": 30.71, "i": 21736}, {"p": "ZnSnO3", "t": 32.91, "i": 21401},
      {"p": "ZnSnO3", "t": 34.75, "i": 24037}, {"p": "ZnSnO3", "t": 38.09, "i": 20857}, {"p": "ZnSnO3", "t": 43.19, "i": 20439},
      {"p": "ZnSnO3", "t": 46.26, "i": 20439}, {"p": "ZnSnO3", "t": 52.14, "i": 20857}, {"p": "ZnSnO3", "t": 58.38, "i": 20146},
      {"p": "ZnSnO3", "t": 65.76, "i": 20648},
      {"p": "ZnO", "t": 32.21, "i": 22364}, {"p": "ZnO", "t": 33.79, "i": 22656}, {"p": "ZnO", "t": 36.6, "i": 22447},
      {"p": "ZnO", "t": 47.93, "i": 20648}, {"p": "ZnO", "t": 56.8, "i": 20690}, {"p": "ZnO", "t": 63.65, "i": 20732},
      {"p": "ZnO", "t": 68.22, "i": 20230},
      {"p": "ZnSnO3", "t": 25.88, "i": 10690}, {"p": "SnO2", "t": 27.03, "i": 10314}, {"p": "ZnSnO3", "t": 30.28, "i": 10104},
      {"p": "ZnSnO3", "t": 33.96, "i": 10648}, {"p": "SnO2", "t": 33.79, "i": 8556}, {"p": "ZnSnO3", "t": 45.56, "i": 8975},
      {"p": "ZnSnO3", "t": 51.09, "i": 9812}, {"p": "SnO2", "t": 52.23, "i": 9351}, {"p": "ZnSnO3", "t": 65.41, "i": 8682},
      {"p": "SnO2", "t": 26.85, "i": 4707}, {"p": "SnO2", "t": 33.79, "i": 4916}, {"p": "SnO2", "t": 37.48, "i": 3410},
      {"p": "SnO2", "t": 51.53, "i": 3745}, {"p": "SnO2", "t": 58.38, "i": 3326}, {"p": "SnO2", "t": 65.14, "i": 3243},
      {"p": "SnO2", "t": 71.38, "i": 2866}, {"p": "SnO2", "t": 79.02, "i": 2657}, {"p": "SnO2", "t": 83.85, "i": 2280}
    ],
    "hkl": [
      {"hkl": "(012)", "t": 27.2, "i": 22740}, {"hkl": "(100)", "t": 29.92, "i": 23619}, {"hkl": "(002)", "t": 32.12, "i": 24414},
      {"hkl": "(110)", "t": 34.93, "i": 24748}, {"hkl": "(101)", "t": 37.3, "i": 24205}, {"hkl": "(015)", "t": 38.88, "i": 21694},
      {"hkl": "(024)", "t": 45.91, "i": 21401}, {"hkl": "(102)", "t": 48.28, "i": 21067}, {"hkl": "(116)", "t": 52.23, "i": 21610},
      {"hkl": "(110)", "t": 55.39, "i": 21610}, {"hkl": "(018)", "t": 59.96, "i": 19937}, {"hkl": "(103)", "t": 62.16, "i": 20062},
      {"hkl": "(112)", "t": 70.06, "i": 19644},
      {"hkl": "(110)", "t": 27.03, "i": 5586}, {"hkl": "(101)", "t": 34.23, "i": 5502}, {"hkl": "(200)", "t": 37.83, "i": 4372},
      {"hkl": "(211)", "t": 51.88, "i": 4791}, {"hkl": "(002)", "t": 58.91, "i": 4121}, {"hkl": "(301)", "t": 65.85, "i": 4121},
      {"hkl": "(202)", "t": 72.08, "i": 3745}, {"hkl": "(321)", "t": 79.37, "i": 3619}, {"hkl": "(222)", "t": 83.94, "i": 3494}
    ],
    "leaders": [
      {"t": 30.36, "i": 23493, "t2": 31.85, "i2": 22656},
      {"t": 32.03, "i": 24330, "t2": 33.52, "i2": 23075}
    ],
    "key": [
      {"p": "SnO2", "name": "SnO₂", "t": 61.1, "i": 15544, "nt": 62.33, "ni": 15460},
      {"p": "ZnSnO3", "name": "ZnSnO₃", "t": 60.66, "i": 13117, "nt": 62.33, "ni": 13159},
      {"p": "ZnO", "name": "ZnO", "t": 60.49, "i": 10648, "nt": 61.81, "ni": 10941}
    ],
    "notes": [
      {"label": "Tᵣ recuit 550°C", "t": 70.68, "i": 17343}
    ]
  },
  "resolve": {"axis": {"x": "independent", "y": "independent"}},
  "layer": [
    {
      "data": {"name": "scans"},
      "mark": {"type": "line", "strokeWidth": 5.5, "strokeJoin": "round", "strokeCap": "round"},
      "encoding": {
        "x": {
          "field": "t", "type": "quantitative",
          "scale": {"domain": [20, 90], "nice": false, "zero": false},
          "axis": {
            "orient": "bottom", "values": [20, 30, 40, 50, 60, 70, 80, 90], "format": "d",
            "domain": false, "grid": false, "tickSize": -12, "tickWidth": 3, "tickColor": "black",
            "labelFont": "Liberation Sans", "labelFontWeight": "bold", "labelFontSize": 31, "labelColor": "black",
            "labelPadding": 34, "labelFlush": false, "labelOverlap": false,
            "title": "2 θ (°)", "titleFont": "Liberation Sans", "titleFontWeight": "bold", "titleFontSize": 32,
            "titleColor": "black", "titleX": 398, "titleY": 90, "titleBaseline": "middle"
          }
        },
        "y": {
          "field": "i", "type": "quantitative",
          "scale": {"domain": [500, 27500], "nice": false, "zero": false},
          "axis": {
            "orient": "left", "values": [5000, 10000, 15000, 20000, 25000], "format": "d",
            "domain": false, "grid": false, "tickSize": -12, "tickWidth": 3, "tickColor": "black",
            "labelFont": "Liberation Sans", "labelFontWeight": "bold", "labelFontSize": 32, "labelColor": "black",
            "labelPadding": 27, "labelFlush": false, "labelOverlap": false,
            "title": "Intensité (u.a)", "titleFont": "Liberation Sans", "titleFontWeight": "bold", "titleFontSize": 33,
            "titleColor": "black", "titleX": -152, "titleY": 352, "titleBaseline": "middle", "titleAngle": 270
          }
        },
        "color": {
          "field": "s", "type": "nominal", "title": null,
          "scale": {
            "domain": ["0_SnO₂", "0.8125_ZnSnO₃/SnO₂", "1.5_ZnSnO₃/ZnO/SnO₂"],
            "range": ["#4d4d4d", "#000000", "#00009c"]
          }
        }
      }
    },
    {
      "data": {"name": "peaks"},
      "transform": [{"filter": "datum.p === 'ZnSnO3'"}],
      "mark": {"type": "text", "text": "♣", "color": "#ff0000", "fontSize": 26, "font": "Liberation Sans", "align": "center", "baseline": "middle"},
      "encoding": {
        "x": {"field": "t", "type": "quantitative", "scale": {"domain": [20, 90], "nice": false, "zero": false}, "axis": null},
        "y": {"field": "i", "type": "quantitative", "scale": {"domain": [500, 27500], "nice": false, "zero": false}, "axis": null}
      }
    },
    {
      "data": {"name": "peaks"},
      "transform": [{"filter": "datum.p === 'SnO2'"}],
      "mark": {"type": "text", "text": "◊", "color": "#000000", "fontSize": 29, "font": "Liberation Sans", "align": "center", "baseline": "middle"},
      "encoding": {
        "x": {"field": "t", "type": "quantitative", "scale": {"domain": [20, 90], "nice": false, "zero": false}, "axis": null},
        "y": {"field": "i", "type": "quantitative", "scale": {"domain": [500, 27500], "nice": false, "zero": false}, "axis": null}
      }
    },
    {
      "data": {"name": "peaks"},
      "transform": [{"filter": "datum.p === 'ZnO'"}],
      "mark": {"type": "text", "text": "o", "color": "#1010a0", "fontSize": 24, "fontWeight": "bold", "font": "Liberation Sans", "align": "center", "baseline": "middle"},
      "encoding": {
        "x": {"field": "t", "type": "quantitative", "scale": {"domain": [20, 90], "nice": false, "zero": false}, "axis": null},
        "y": {"field": "i", "type": "quantitative", "scale": {"domain": [500, 27500], "nice": false, "zero": false}, "axis": null}
      }
    },
    {
      "data": {"name": "hkl"},
      "mark": {"type": "text", "angle": 270, "align": "left", "baseline": "middle", "fontSize": 25, "fontWeight": "bold", "font": "Liberation Sans"},
      "encoding": {
        "x": {"field": "t", "type": "quantitative", "scale": {"domain": [20, 90], "nice": false, "zero": false}, "axis": null},
        "y": {"field": "i", "type": "quantitative", "scale": {"domain": [500, 27500], "nice": false, "zero": false}, "axis": null},
        "text": {"field": "hkl"},
        "color": {"condition": {"test": "datum.hkl === '(024)'", "value": "#ff0000"}, "value": "#000000"}
      }
    },
    {
      "data": {"name": "leaders"},
      "mark": {"type": "rule", "color": "black", "strokeWidth": 2},
      "encoding": {
        "x": {
          "field": "t", "type": "quantitative", "scale": {"domain": [20, 90], "nice": false, "zero": false},
          "axis": {"orient": "bottom", "values": [25, 35, 45, 55, 65, 75, 85], "labels": false, "domain": false, "grid": false,
                   "tickSize": -7, "tickWidth": 3, "tickColor": "black", "title": null}
        },
        "y": {
          "field": "i", "type": "quantitative", "scale": {"domain": [500, 27500], "nice": false, "zero": false},
          "axis": {"orient": "left", "values": [2500, 7500, 12500, 17500, 22500], "labels": false, "domain": false, "grid": false,
                   "tickSize": -7, "tickWidth": 3, "tickColor": "black", "title": null}
        },
        "x2": {"field": "t2"},
        "y2": {"field": "i2"}
      }
    },
    {
      "data": {"name": "key"},
      "mark": {"type": "text", "font": "Liberation Sans", "align": "center", "baseline": "middle"},
      "encoding": {
        "x": {"field": "t", "type": "quantitative", "scale": {"domain": [20, 90], "nice": false, "zero": false}, "axis": null},
        "y": {"field": "i", "type": "quantitative", "scale": {"domain": [500, 27500], "nice": false, "zero": false}, "axis": null},
        "text": {"condition": [{"test": "datum.p === 'SnO2'", "value": "◊"}, {"test": "datum.p === 'ZnSnO3'", "value": "♣"}], "value": "o"},
        "color": {"condition": [{"test": "datum.p === 'SnO2'", "value": "#000000"}, {"test": "datum.p === 'ZnSnO3'", "value": "#ff0000"}], "value": "#1010a0"},
        "size": {"condition": [{"test": "datum.p === 'SnO2'", "value": 29}], "value": 26}
      }
    },
    {
      "data": {"name": "key"},
      "mark": {"type": "text", "font": "Liberation Sans", "fontWeight": "bold", "fontSize": 29, "align": "left", "baseline": "middle"},
      "encoding": {
        "x": {"field": "nt", "type": "quantitative", "scale": {"domain": [20, 90], "nice": false, "zero": false}, "axis": null},
        "y": {"field": "ni", "type": "quantitative", "scale": {"domain": [500, 27500], "nice": false, "zero": false}, "axis": null},
        "text": {"field": "name"},
        "color": {"condition": [{"test": "datum.p === 'SnO2'", "value": "#000000"}, {"test": "datum.p === 'ZnSnO3'", "value": "#ff0000"}], "value": "#1010a0"}
      }
    },
    {
      "data": {"name": "notes"},
      "mark": {"type": "text", "font": "Liberation Sans", "fontWeight": "bold", "fontSize": 27, "align": "left", "baseline": "alphabetic", "color": "black"},
      "encoding": {
        "x": {"field": "t", "type": "quantitative", "scale": {"domain": [20, 90], "nice": false, "zero": false}, "axis": null},
        "y": {"field": "i", "type": "quantitative", "scale": {"domain": [500, 27500], "nice": false, "zero": false}, "axis": null},
        "text": {"field": "label"}
      }
    }
  ]
}
